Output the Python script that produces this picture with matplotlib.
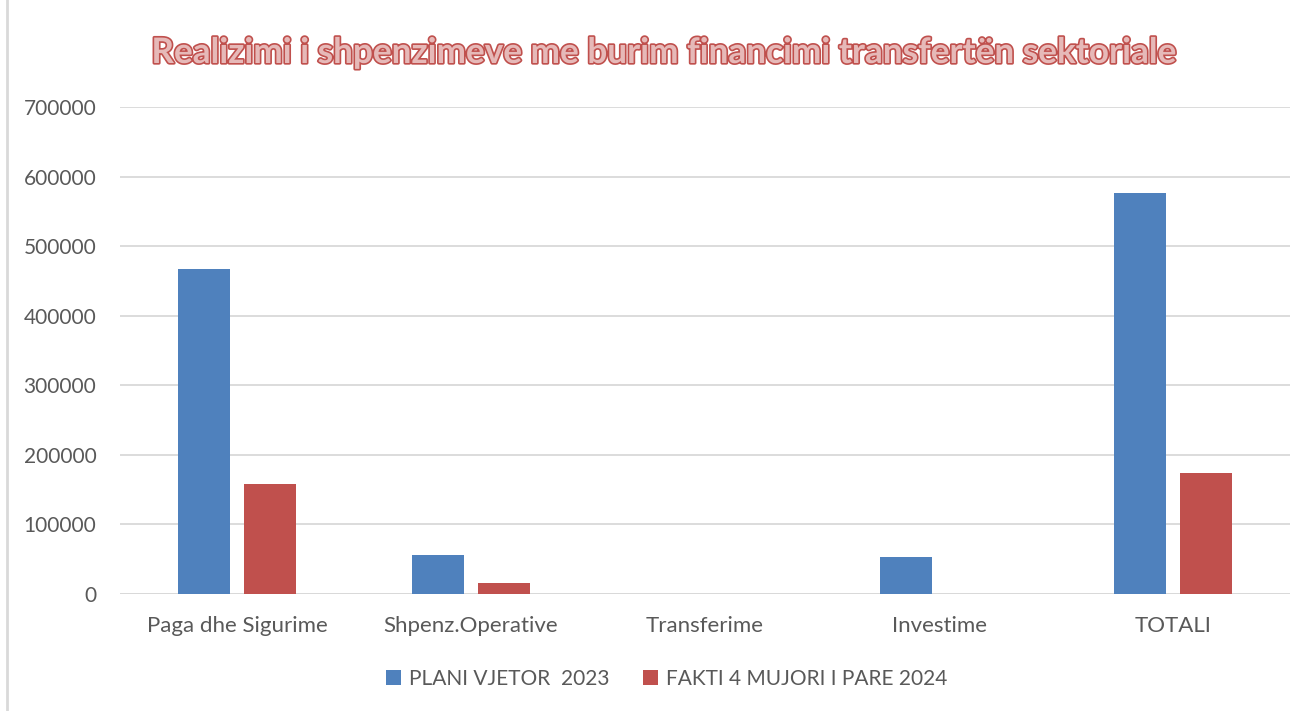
import matplotlib
matplotlib.use("Agg")
import matplotlib.pyplot as plt
import matplotlib.patheffects as pe
import numpy as np
from matplotlib.lines import Line2D

categories = ["Paga dhe Sigurime", "Shpenz.Operative", "Transferime", "Investime", "TOTALI"]
plan_2023 = [467000, 56000, 0, 53000, 576000]
fakt_2024 = [158000, 15500, 0, 0, 173500]
series_names = ["PLANI VJETOR  2023", "FAKTI 4 MUJORI I PARE 2024"]
yticks = [0, 100000, 200000, 300000, 400000, 500000, 600000, 700000]
title = "Realizimi i shpenzimeve me burim financimi transfertën sektoriale"

BLUE = "#4F81BD"
RED = "#C0504D"
GRID = "#D9D9D9"
TXT = "#595959"
FONT = "Lato"

W, H = 1308, 711
fig = plt.figure(figsize=(W / 100, H / 100), dpi=100)
ax = fig.add_axes([120 / W, 1 - 594 / H, (1290 - 120) / W, (594 - 107) / H])

x = np.arange(len(categories))
bw = 0.222
off = 0.143
ax.bar(x - off, plan_2023, bw, color=BLUE, label=series_names[0], zorder=3)
ax.bar(x + off, fakt_2024, bw, color=RED, label=series_names[1], zorder=3)

ax.set_xlim(-0.5, len(categories) - 0.5)
ax.set_ylim(0, 700000)
ax.set_yticks(yticks)
ax.set_yticklabels([str(v) for v in yticks], fontsize=15, color=TXT, family=FONT)
ax.set_xticks(x)
ax.set_xticklabels(categories, fontsize=16, color=TXT, family=FONT)
ax.tick_params(axis="both", length=0)
ax.tick_params(axis="y", pad=17)
ax.tick_params(axis="x", pad=16)
ax.grid(axis="y", color=GRID, linewidth=1.3, zorder=0)
for s in ax.spines.values():
    s.set_visible(False)
ax.axhline(0, color=GRID, linewidth=2, zorder=2)

fig.text(663 / W, 1 - 53 / H, title, ha="center", va="center", fontsize=25.3,
         fontweight="bold", family=FONT, color="#E6B9B8",
         path_effects=[pe.Stroke(linewidth=2.4, foreground=RED), pe.Normal()])

leg = fig.legend(loc="center", bbox_to_anchor=(667 / W, 1 - 679 / H), ncol=2,
                 frameon=False, handlelength=0.7, handleheight=0.7,
                 handletextpad=0.4, columnspacing=1.6, prop={"family": FONT, "size": 15})
for t in leg.get_texts():
    t.set_color(TXT)

fig.add_artist(Line2D([7 / W, 7 / W], [0, 1], transform=fig.transFigure, color=GRID, linewidth=2))

fig.savefig("out.png", dpi=100)
